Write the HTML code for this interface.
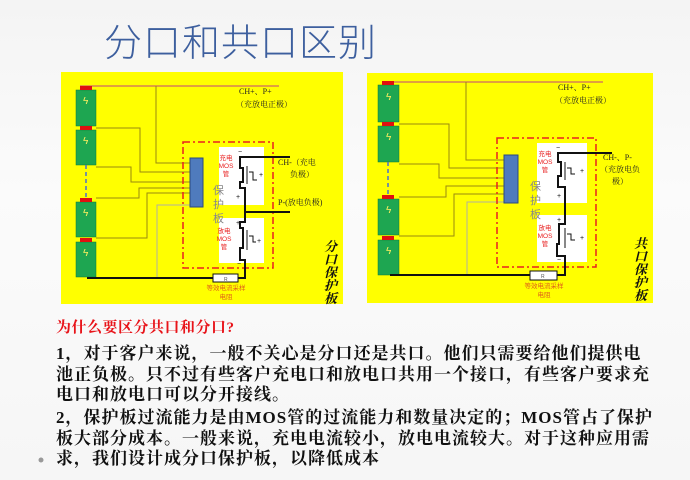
<!DOCTYPE html>
<html><head><meta charset="utf-8"><style>
html,body{margin:0;padding:0}
body{width:690px;height:480px;overflow:hidden;position:relative;background:linear-gradient(180deg,#f4f4f4 0%,#fbfbfb 40%,#f6f6f6 100%);font-family:"Liberation Serif","Noto Serif CJK SC",serif}
.title{position:absolute;left:104px;top:12px;font-family:"Liberation Sans","Noto Sans CJK SC",sans-serif;font-weight:300;font-size:38px;color:#3d5f9e;letter-spacing:1px;white-space:nowrap}
.t{position:absolute;left:56px;white-space:nowrap;font-size:17px;letter-spacing:1px;color:#111;font-weight:bold}
.h{color:#e8141a;font-size:15px;letter-spacing:.5px}
</style></head><body>
<div class="title">分口和共口区别</div>
<svg width="690" height="480" style="position:absolute;left:0;top:0" font-family="Liberation Sans,Noto Sans CJK SC,sans-serif">
<!-- LEFT PANEL -->
<rect x="61" y="72" width="282" height="232" fill="#ffff00"/>
<line x1="80" y1="86" x2="279" y2="86" stroke="#e0a040" stroke-width="2"/>
<g fill="#1ea651" stroke="#0d7a35" stroke-width="0.5">
<rect x="76" y="90" width="20" height="36"/><rect x="76" y="130" width="20" height="35"/>
<rect x="76" y="202" width="20" height="35"/><rect x="76" y="242" width="20" height="35"/></g>
<g fill="#e01010"><rect x="80" y="86" width="12" height="4"/><rect x="80" y="126" width="12" height="4"/><rect x="80" y="198" width="12" height="4"/><rect x="80" y="238" width="12" height="4"/></g>
<g fill="#ffef60" font-size="10"><text x="83" y="104">ϟ</text><text x="83" y="144">ϟ</text><text x="83" y="216">ϟ</text><text x="83" y="256">ϟ</text></g>
<line x1="86" y1="165" x2="86" y2="198" stroke="#4a6fd0" stroke-width="1.5" stroke-dasharray="4,3"/>
<g fill="none" stroke="#9a8a10" stroke-width="1">
<polyline points="156,86 156,163 190,163"/>
<polyline points="96,128 140,128 140,172 190,172"/>
<polyline points="96,167 131,167 131,182 190,182"/>
<polyline points="96,198 139,198 139,188 190,188"/>
<polyline points="96,238 147,238 147,193 190,193"/>
</g>
<polyline points="157,277 157,205 190,205" fill="none" stroke="#b0b0a0" stroke-width="1"/>
<rect x="183" y="142" width="90" height="126" fill="none" stroke="#e82020" stroke-width="1.5" stroke-dasharray="7,3,2,3"/>
<rect x="219" y="147" width="45" height="58" fill="#fff"/><rect x="219" y="218" width="45" height="45" fill="#fff"/>
<rect x="190" y="158" width="13" height="49" fill="#4f7bbd" stroke="#2b4a80"/>
<g fill="#e82020" font-size="6.5" text-anchor="middle"><text x="226" y="160">充电</text><text x="226" y="168">MOS</text><text x="226" y="176">管</text>
<text x="224" y="233">放电</text><text x="224" y="241">MOS</text><text x="224" y="249">管</text></g>
<g fill="#888" font-size="11"><text x="213" y="194">保</text><text x="213" y="208">护</text><text x="213" y="222">板</text></g>
<g fill="none" stroke="#111" stroke-width="2">
<polyline points="290,157 240,157 240,168 243,168 243,182 240,182 240,188 245,188 245,222 240,222 240,228 243,228 243,248 240,248 240,260 245,260 245,278 238,278"/>
<line x1="245" y1="212" x2="290" y2="212"/>
<line x1="87" y1="278" x2="213" y2="278"/>
</g>
<g stroke="#111" stroke-width="1" fill="none"><polyline points="247,166 247,184"/><polyline points="249,172 253,172 253,180 257,180"/><polyline points="247,230 247,250"/><polyline points="249,236 253,236 253,242 256,242"/></g>
<g fill="#111" font-size="7"><text x="238" y="154">−</text><text x="259" y="177">+</text><text x="236" y="199">+</text><text x="236" y="225">+</text><text x="257" y="243">+</text><text x="237" y="266">−</text></g>
<rect x="213" y="274" width="25" height="8" fill="#fff" stroke="#111"/><text x="224" y="281" font-size="5" fill="#555">R</text>
<g fill="#e0601a" font-size="6.5" text-anchor="middle"><text x="226" y="290">等效电流采样</text><text x="226" y="299">电阻</text></g>
<g fill="#222" font-size="8" font-family="Liberation Serif,Noto Serif CJK SC,serif"><text x="239" y="94">CH+、P+</text><text x="236" y="107">（充放电正极）</text>
<text x="278" y="165">CH-（充电</text><text x="290" y="177">负极）</text><text x="278" y="205">P-(放电负极)</text></g>
<g fill="#111" font-size="13" font-weight="bold" font-style="italic" font-family="Noto Serif CJK SC,serif"><text x="324" y="251">分</text><text x="324" y="264">口</text><text x="324" y="277">保</text><text x="324" y="290">护</text><text x="324" y="303">板</text></g>

<!-- RIGHT PANEL -->
<rect x="367" y="73" width="286" height="230" fill="#ffff00"/>
<line x1="385" y1="82" x2="603" y2="82" stroke="#e0a040" stroke-width="2"/>
<g fill="#1ea651" stroke="#0d7a35" stroke-width="0.5">
<rect x="378" y="85" width="21" height="37"/><rect x="378" y="126" width="21" height="36"/>
<rect x="378" y="199" width="21" height="36"/><rect x="378" y="240" width="21" height="35"/></g>
<g fill="#e01010"><rect x="382" y="81" width="12" height="4"/><rect x="382" y="122" width="12" height="4"/><rect x="382" y="195" width="12" height="4"/><rect x="382" y="236" width="12" height="4"/></g>
<g fill="#ffef60" font-size="10"><text x="386" y="100">ϟ</text><text x="386" y="140">ϟ</text><text x="386" y="213">ϟ</text><text x="386" y="254">ϟ</text></g>
<line x1="388" y1="162" x2="388" y2="195" stroke="#4a6fd0" stroke-width="1.5" stroke-dasharray="4,3"/>
<g fill="none" stroke="#9a8a10" stroke-width="1">
<polyline points="466,82 466,160 504,160"/>
<polyline points="399,124 449,124 449,168 504,168"/>
<polyline points="399,164 439,164 439,178 504,178"/>
<polyline points="399,197 446,197 446,186 504,186"/>
<polyline points="399,236 454,236 454,194 504,194"/>
</g>
<polyline points="467,275 467,202 504,202" fill="none" stroke="#b0b0a0" stroke-width="1"/>
<rect x="497" y="138" width="99" height="129" fill="none" stroke="#e82020" stroke-width="1.5" stroke-dasharray="7,3,2,3"/>
<rect x="537" y="143" width="50" height="60" fill="#fff"/><rect x="537" y="215" width="50" height="47" fill="#fff"/>
<rect x="504" y="155" width="14" height="48" fill="#4f7bbd" stroke="#2b4a80"/>
<g fill="#e82020" font-size="6.5" text-anchor="middle"><text x="545" y="156">充电</text><text x="545" y="164">MOS</text><text x="545" y="172">管</text>
<text x="545" y="230">放电</text><text x="545" y="238">MOS</text><text x="545" y="246">管</text></g>
<g fill="#888" font-size="11"><text x="530" y="190">保</text><text x="530" y="204">护</text><text x="530" y="218">板</text></g>
<g fill="none" stroke="#111" stroke-width="2">
<polyline points="612,153 558,153 558,162 561,162 561,176 558,176 558,187 565,187 565,224 559,224 559,244 557,244 557,256 565,256 565,275 557,275"/>
<line x1="390" y1="275" x2="530" y2="275"/>
</g>
<g stroke="#111" stroke-width="1" fill="none"><polyline points="565,162 565,180"/><polyline points="567,168 571,168 571,174 575,174"/><polyline points="565,228 565,248"/><polyline points="567,234 571,234 571,240 575,240"/></g>
<g fill="#111" font-size="7"><text x="556" y="150">−</text><text x="580" y="173">+</text><text x="557" y="198">+</text><text x="557" y="222">+</text><text x="580" y="240">+</text><text x="557" y="262">−</text></g>
<rect x="530" y="271" width="27" height="9" fill="#fff" stroke="#111"/><text x="541" y="278" font-size="5" fill="#555">R</text>
<g fill="#e0601a" font-size="6.5" text-anchor="middle"><text x="544" y="288">等效电流采样</text><text x="544" y="297">电阻</text></g>
<g fill="#222" font-size="8" font-family="Liberation Serif,Noto Serif CJK SC,serif"><text x="558" y="90">CH+、P+</text><text x="555" y="103">（充放电正极）</text>
<text x="603" y="160">CH-、P-</text><text x="600" y="172">（充放电负</text><text x="612" y="184">极）</text></g>
<g fill="#111" font-size="13" font-weight="bold" font-style="italic" font-family="Noto Serif CJK SC,serif"><text x="634" y="248">共</text><text x="634" y="261">口</text><text x="634" y="274">保</text><text x="634" y="287">护</text><text x="634" y="300">板</text></g>
<circle cx="41" cy="460" r="2.5" fill="#999"/>
</svg>
<div class="t h" style="top:316px">为什么要区分共口和分口?</div>
<div class="t" style="top:339px">1，对于客户来说，一般不关心是分口还是共口。他们只需要给他们提供电</div>
<div class="t" style="top:360px">池正负极。只不过有些客户充电口和放电口共用一个接口，有些客户要求充</div>
<div class="t" style="top:380px">电口和放电口可以分开接线。</div>
<div class="t" style="top:403px">2，保护板过流能力是由MOS管的过流能力和数量决定的；MOS管占了保护</div>
<div class="t" style="top:424px">板大部分成本。一般来说，充电电流较小，放电电流较大。对于这种应用需</div>
<div class="t" style="top:444px">求，我们设计成分口保护板，以降低成本</div>
</body></html>
